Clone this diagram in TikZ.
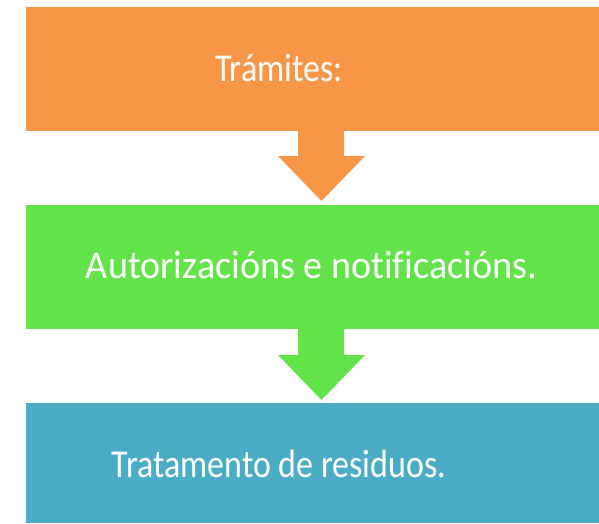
\documentclass[tikz,border=0pt]{standalone}
\usepackage{fontspec}
\setmainfont[Ligatures=NoCommon]{Carlito}
\definecolor{borange}{HTML}{F79646}
\definecolor{bgreen}{HTML}{62E34A}
\definecolor{bblue}{HTML}{4BACC6}
\begin{document}
\begin{tikzpicture}[x=1pt,y=-1pt,
  box/.style={fill=#1,draw=none},
  lbl/.style={anchor=base,inner sep=0pt,text=white,font=\fontsize{39.5}{48}\selectfont},
  blockarrow/.style={fill=#1,draw=none}]
\useasboundingbox (0,0) rectangle (599,523);
% boxes
\fill[box=borange] (26,7) rectangle (599,131);
\fill[box=bgreen] (26,205) rectangle (599,329);
\fill[box=bblue] (26,403) rectangle (599,523);
% arrows
\fill[blockarrow=borange] (298,131) -- (344,131) -- (344,156) -- (365,156) -- (321.5,201) -- (278,156) -- (298,156) -- cycle;
\fill[blockarrow=bgreen] (298,329) -- (344,329) -- (344,355) -- (365,355) -- (321.5,400) -- (278,355) -- (298,355) -- cycle;
% labels
\node[lbl] (t1) at (279,81) {\scalebox{0.86}[1]{Trámites:}};
\node[lbl] (t2) at (311.5,278) {\scalebox{0.965}[1]{Autorizacións e notificacións.}};
\node[lbl] (t3) at (279,477) {\scalebox{0.86}[1]{Tratamento de residuos.}};
\end{tikzpicture}
\end{document}
